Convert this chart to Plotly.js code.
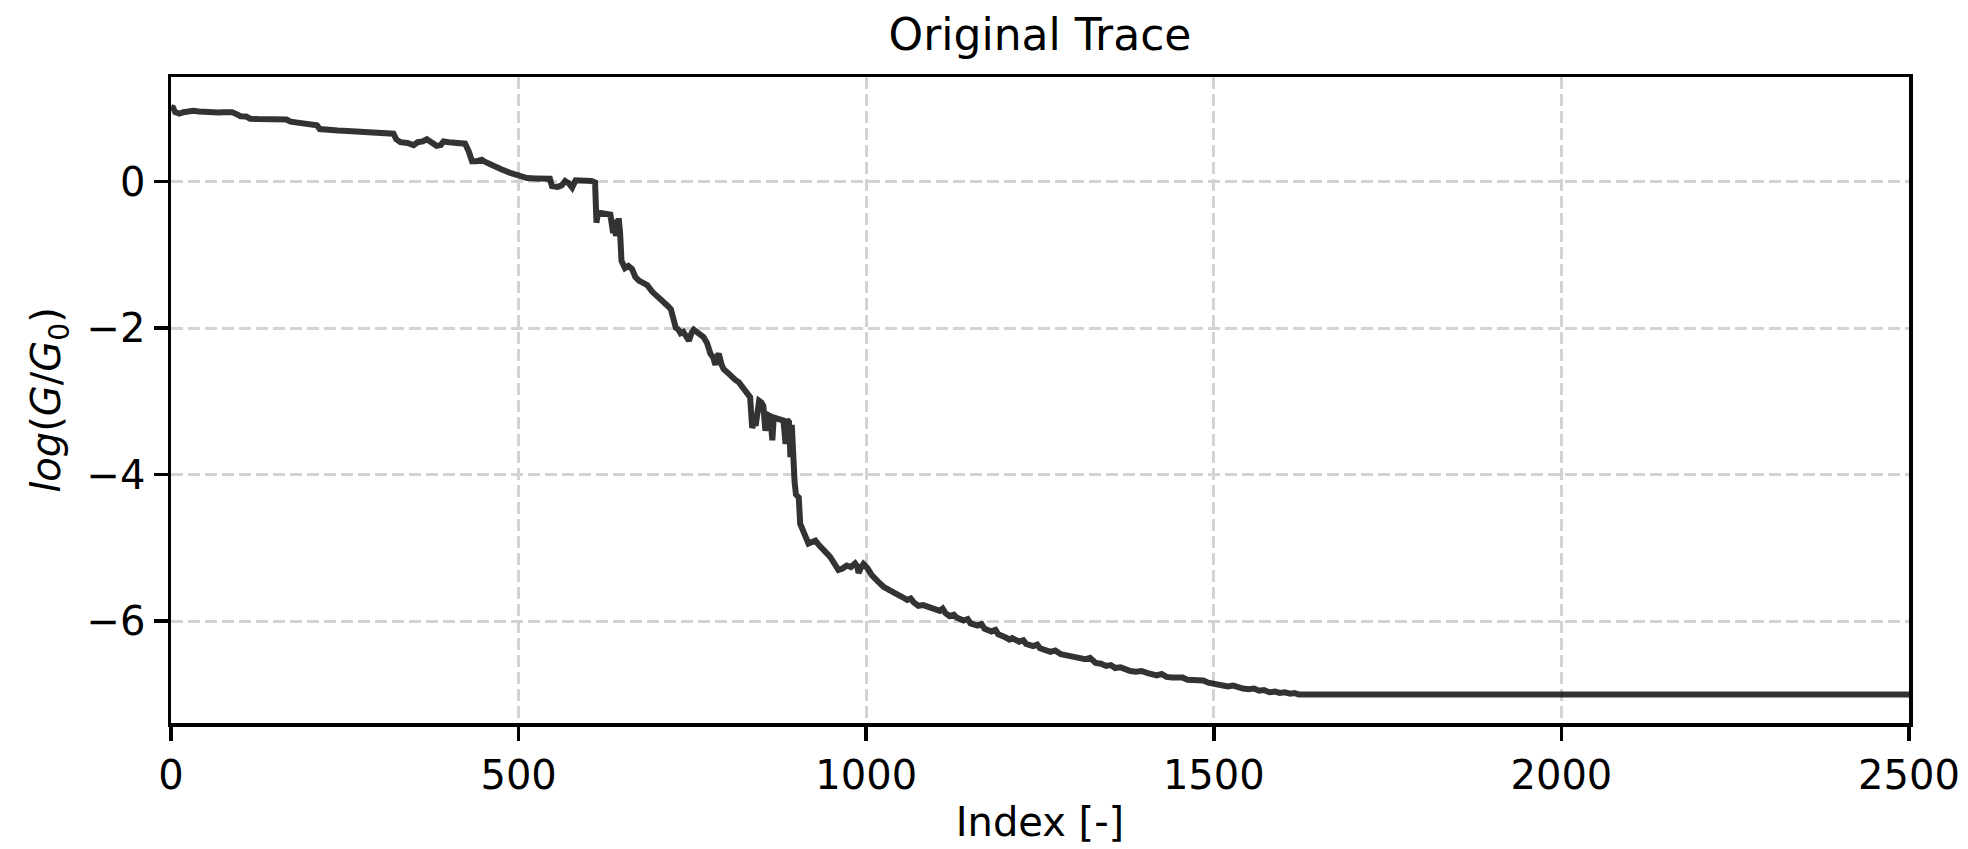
<!DOCTYPE html>
<html>
<head>
<meta charset="utf-8">
<script src="https://cdn.plot.ly/plotly-3.0.1.min.js"></script>
<style>html,body{margin:0;padding:0;background:#fff;}#chart{width:1968px;height:849px;}</style>
</head>
<body>
<div id="chart"></div>
<script>
// Index values of the trace
const traceIndex = [
  0,3,6,12,18,25,32,40,50,58,62,68,75,82,88,95,100,108,114,125,140,155,166,172,180,195,210,214,222,240,260,272,285,300,320,
  324,330,340,349,355,362,368,374,382,388,392,400,412,423,428,433,440,447,452,459,464,475,488,500,512,525,545,
  548,556,562,567,572,577,582,592,605,610,612,614,622,632,636,638,640,644,646,648,653,658,663,668,673,680,685,
  692,699,704,709,715,719,723,726,730,733,737,741,745,749,752,756,761,766,771,776,780,783,786,788,792,795,800,
  805,811,817,823,828,833,836,839,841,844,846,849,852,855,858,862,865,867,872,878,881,884,886,889,891,893,895,
  897,899,903,905,909,912,917,922,927,932,936,942,948,954,960,966,972,978,984,987,989,993,996,1002,1008,1016,
  1025,1034,1044,1052,1059,1064,1068,1075,1082,1090,1098,1106,1110,1114,1120,1126,1130,1140,1146,1150,1160,1166,
  1170,1180,1186,1190,1200,1206,1210,1220,1226,1230,1240,1246,1250,1258,1265,1272,1280,1290,1298,1306,1315,1322,
  1330,1338,1345,1352,1358,1366,1372,1380,1388,1396,1405,1412,1418,1425,1432,1440,1448,1455,1462,1470,1478,1485,
  1492,1498,1505,1512,1520,1528,1535,1542,1550,1558,1565,1572,1580,1588,1595,1602,1610,1616,1622,1628,1632,1640,2500
];
// log(G/G0) values
const logConductance = [
  1.02,1.01,0.95,0.93,0.95,0.96,0.97,0.96,0.955,0.95,0.935,0.945,0.95,0.96,0.95,0.92,0.895,0.89,0.86,0.855,0.855,0.853,0.85,0.82,0.81,0.795,0.77,0.72,0.71,0.70,0.69,0.68,0.675,0.665,0.655,
  0.58,0.54,0.53,0.50,0.54,0.55,0.58,0.53,0.49,0.50,0.55,0.54,0.535,0.52,0.42,0.28,0.28,0.30,0.27,0.24,0.20,0.17,0.12,0.085,0.05,0.045,0.04,
  -0.06,-0.07,-0.05,0.01,-0.02,-0.08,0.02,0.02,0.01,-0.01,-0.56,-0.42,-0.43,-0.45,-0.70,-0.52,-0.74,-0.50,-0.70,-1.08,-1.18,-1.15,-1.19,-1.30,-1.35,-1.38,-1.41,
  -1.50,-1.56,-1.58,-1.63,-1.70,-1.74,-1.88,-1.99,-2.02,-2.07,-2.05,-2.13,-2.17,-2.06,-2.02,-2.05,-2.08,-2.12,-2.20,-2.35,-2.40,-2.50,-2.38,-2.35,-2.50,-2.56,-2.60,
  -2.65,-2.70,-2.74,-2.82,-2.88,-2.94,-3.36,-3.30,-3.33,-3.10,-2.99,-3.01,-3.06,-3.40,-3.18,-3.20,-3.53,-3.22,-3.24,-3.25,-3.26,-3.58,-3.25,-3.28,-3.76,-3.32,-3.90,
  -4.10,-4.27,-4.31,-4.67,-4.78,-4.82,-4.94,-4.92,-4.90,-4.96,-5.01,-5.06,-5.12,-5.20,-5.30,-5.28,-5.24,-5.26,-5.21,-5.25,-5.34,-5.26,-5.22,-5.28,-5.37,-5.45,
  -5.53,-5.58,-5.62,-5.67,-5.71,-5.69,-5.74,-5.79,-5.78,-5.80,-5.83,-5.86,-5.83,-5.89,-5.93,-5.91,-5.95,-5.99,-5.97,-6.03,-6.06,-6.04,
  -6.10,-6.14,-6.12,-6.18,-6.22,-6.25,-6.23,-6.28,-6.26,-6.31,-6.34,-6.32,-6.37,-6.40,-6.42,-6.40,-6.45,-6.47,-6.48,-6.50,-6.52,-6.50,
  -6.57,-6.58,-6.61,-6.60,-6.64,-6.63,-6.66,-6.68,-6.69,-6.68,-6.71,-6.73,-6.74,-6.72,-6.76,-6.77,-6.78,-6.77,-6.80,-6.81,-6.82,-6.81,
  -6.84,-6.85,-6.86,-6.87,-6.89,-6.88,-6.91,-6.92,-6.93,-6.92,-6.95,-6.94,-6.97,-6.96,-6.98,-6.97,-6.99,-6.98,-7.0,-6.99,-7.0,-7.0,-7.0
];
const xTickVals = [0, 500, 1000, 1500, 2000, 2500];
const xTickText = ['0', '500', '1000', '1500', '2000', '2500'];
const yTickVals = [-6, -4, -2, 0];
const yTickText = ['\u22126', '\u22124', '\u22122', '0'];

const FONT = 'DejaVu Sans, Liberation Sans, sans-serif';

const data = [{
  x: traceIndex,
  y: logConductance,
  type: 'scatter',
  mode: 'lines',
  line: {color: 'rgba(0,0,0,0.8)', width: 6},
  hoverinfo: 'skip'
}];

const gridStyle = {showgrid: true, gridcolor: '#d3d3d3', gridwidth: 3, griddash: '12px,5px'};

const layout = {
  width: 1968, height: 849,
  paper_bgcolor: '#ffffff', plot_bgcolor: '#ffffff',
  margin: {l: 171, r: 59, t: 77, b: 126, pad: 0},
  showlegend: false,
  font: {family: FONT, color: '#000', size: 40},
  title: {
    text: 'Original Trace',
    font: {family: FONT, size: 44, color: '#000'},
    x: 0.5 * (171 + 1909) / 1968, xanchor: 'center',
    y: 1 - 35 / 849, yanchor: 'middle', yref: 'container'
  },
  xaxis: Object.assign({
    range: [0, 2500],
    tickvals: xTickVals, ticktext: xTickText,
    ticks: 'outside', ticklen: 14, tickwidth: 3.5, tickcolor: '#000',
    showline: true, linecolor: '#000', linewidth: 3.5, mirror: true,
    zeroline: false, automargin: false,
    tickfont: {family: FONT, size: 40, color: '#000'},
    title: {text: 'Index [-]', font: {family: FONT, size: 40, color: '#000'}, standoff: 12}
  }, gridStyle),
  yaxis: Object.assign({
    range: [-7.39, 1.43],
    tickvals: yTickVals, ticktext: yTickText,
    ticks: 'outside', ticklen: 14, tickwidth: 3.5, tickcolor: '#000',
    showline: true, linecolor: '#000', linewidth: 3.5, mirror: true,
    zeroline: false, automargin: false,
    tickfont: {family: FONT, size: 40, color: '#000'},
    title: {text: '<i>log</i>(<i>G</i>/<i>G</i><sub>0</sub>)', font: {family: FONT, size: 40, color: '#000'}, standoff: 14}
  }, gridStyle)
};

Plotly.newPlot('chart', data, layout, {staticPlot: true, displayModeBar: false});
</script>
</body>
</html>
